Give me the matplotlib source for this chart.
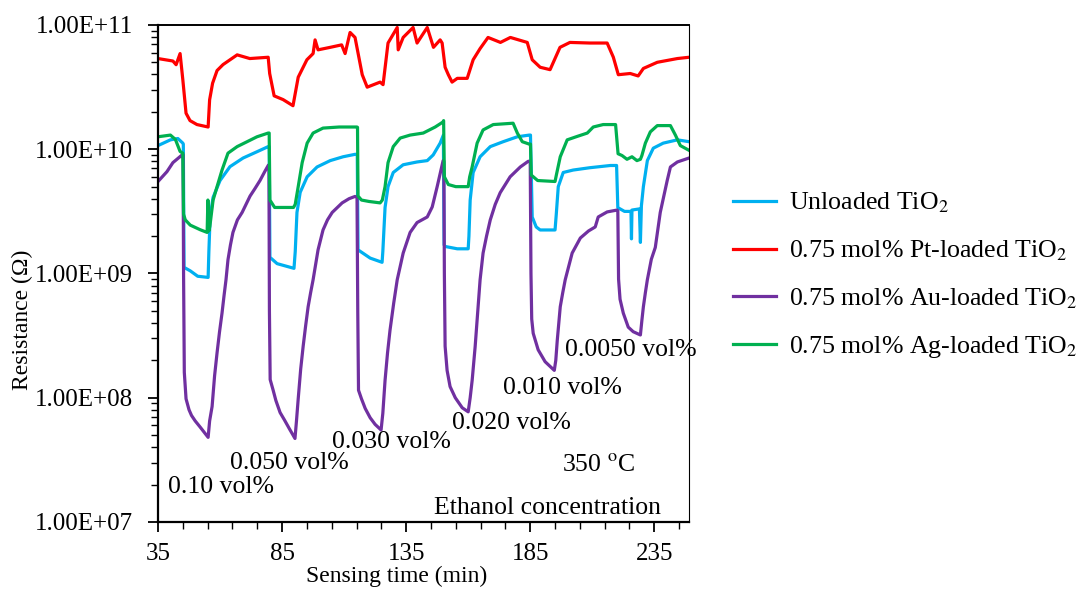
import matplotlib
matplotlib.use("Agg")
import matplotlib.pyplot as plt
import numpy as np
from matplotlib.ticker import FuncFormatter, FixedLocator, LogLocator, NullFormatter

plt.rcParams['font.family'] = ['Liberation Serif', 'DejaVu Serif']
plt.rcParams['mathtext.fontset'] = 'stix'

# sensing time (min) and resistance (ohm) for each film
t_unloaded = [35, 40, 43, 45, 45.2, 45.5, 48, 51, 55.2, 55.5, 56, 57.2, 60, 64, 69.3, 74.9, 79.4,
              79.8, 80.1, 83, 89.8, 90.3, 91, 92.3, 95.1, 99.1, 104.4, 109.6, 114.4, 115.3,
              115.6, 120.5, 125.3, 125.6, 126.5, 127.7, 129.8, 133.8, 139.4, 143.5, 145.9,
              148.7, 150, 150.3, 150.7, 155.6, 160, 160.3, 160.8, 162, 164.8, 168.9, 174.1,
              179.8, 184.6, 185.1, 185.8, 187.4, 189, 195, 195.5, 196.3, 198.3, 202.3, 209,
              217.3, 219.8, 220.3, 223, 225.6, 225.8, 226.0, 229, 229.4, 229.8, 230.6, 232.2,
              234.6, 238.6, 244.3, 249]
r_unloaded = [1.07e10, 1.19e10, 1.22e10, 1.12e10, 1.1e10, 1.12e9, 1.05e9, 9.5e8, 9.3e8, 1.5e9,
              2.85e9, 4.1e9, 5.6e9, 7.24e9, 8.5e9, 9.55e9, 1.05e10, 1.05e10, 1.35e9, 1.2e9,
              1.1e9, 1.5e9, 3.1e9, 4.5e9, 6.0e9, 7.2e9, 8.1e9, 8.7e9, 9.1e9, 9.1e9, 1.55e9,
              1.33e9, 1.23e9, 1.5e9, 3.4e9, 5.0e9, 6.5e9, 7.5e9, 7.9e9, 8.1e9, 9.0e9, 1.12e10,
              1.3e10, 1.7e9, 1.65e9, 1.58e9, 1.58e9, 2.0e9, 3.9e9, 6.5e9, 8.7e9, 1.05e10,
              1.15e10, 1.26e10, 1.3e10, 1.3e10, 2.85e9, 2.37e9, 2.24e9, 2.24e9, 3.0e9, 5.0e9,
              6.5e9, 6.8e9, 7.1e9, 7.4e9, 7.4e9, 3.39e9, 3.16e9, 3.16e9, 1.9e9, 3.24e9, 3.31e9,
              1.78e9, 3.5e9, 5.0e9, 8.1e9, 1.02e10, 1.12e10, 1.19e10, 1.15e10]

t_pt = [35, 41, 42.3, 43.9, 45, 46.3, 47.9, 50.7, 55.2, 55.8, 57, 58.8, 61.2, 66.9, 72, 79.4,
        80, 81.8, 85.4, 89.4, 91.5, 95, 97.5, 98.3, 99.5, 104.4, 109, 110.4, 112.4, 114.4,
        117.3, 119.3, 124.5, 125.7, 127.7, 131.4, 131.8, 133.8, 137.8, 139.4, 143.5, 146,
        148.7, 149.5, 150.7, 152, 153.5, 155.6, 159.6, 162, 164.8, 168, 173, 177, 183.8,
        185.8, 189, 193, 197, 201, 209, 216, 218.5, 220.5, 225.3, 228.5, 230.6, 236.2, 244.3,
        249]
r_pt = [5.37e10, 5.13e10, 4.79e10, 5.89e10, 3.63e10, 1.95e10, 1.7e10, 1.58e10, 1.51e10,
        2.5e10, 3.4e10, 4.3e10, 4.8e10, 5.75e10, 5.37e10, 5.5e10, 4.07e10, 2.69e10, 2.51e10,
        2.24e10, 3.8e10, 5.25e10, 5.89e10, 7.59e10, 6.31e10, 6.61e10, 6.92e10, 5.89e10,
        8.71e10, 7.94e10, 3.98e10, 3.16e10, 3.47e10, 3.31e10, 7.16e10, 9.55e10, 6.31e10,
        7.94e10, 9.55e10, 7.16e10, 9.55e10, 6.61e10, 7.59e10, 7.16e10, 4.57e10, 3.98e10,
        3.47e10, 3.72e10, 3.72e10, 5.25e10, 6.46e10, 7.94e10, 7.24e10, 7.94e10, 7.24e10,
        5.25e10, 4.57e10, 4.37e10, 6.61e10, 7.24e10, 7.16e10, 7.16e10, 5.5e10, 3.98e10,
        4.07e10, 3.89e10, 4.47e10, 5.01e10, 5.37e10, 5.5e10]

t_au = [35, 38.6, 41, 44.7, 45.1, 45.3, 45.6, 46.3, 47.5, 48.5, 50, 52, 53.5, 55.2, 55.8, 56.8,
        57.8, 58.8, 59.8, 60.8, 61.6, 62.4, 63.2, 64.2, 65.2, 67, 68.9, 70.5, 72.1, 74, 76.1,
        78, 79.4, 79.7, 79.9, 80.2, 81.4, 82.5, 84.2, 86, 88, 90.2, 90.8, 91.5, 92.5, 93.5,
        94.5, 95.5, 96.5, 97.5, 99.5, 101.5, 103.3, 105.2, 109.2, 112, 114.4, 115.2, 115.5,
        115.8, 117, 118.5, 120.5, 122.5, 124.9, 125.6, 126.5, 127.5, 128.5, 130, 131.4, 133.8,
        136.6, 139.4, 143.5, 145.5, 147.5, 149.9, 150.2, 150.4, 150.7, 151.5, 152.7, 154.8,
        157.6, 160, 160.8, 161.6, 162.8, 164, 164.8, 166, 167.4, 168.9, 170.9, 172.9, 176.9,
        181, 184.2, 185.0, 185.3, 185.6, 186.2, 188.2, 191, 194.7, 195.3, 195.9, 197.1, 198.1,
        199.1, 201.9, 205.2, 208.5, 211.2, 212.4, 216, 220, 220.3, 220.6, 221.2, 222.5, 224.5,
        226.5, 229.4, 230, 230.6, 231.4, 232.2, 233.8, 235.4, 237.4, 240.2, 241.5, 244.3, 249]
r_au = [5.5e9, 6.6e9, 7.8e9, 9.0e9, 9.0e9, 1.0e9, 1.6e8, 9.8e7, 8.0e7, 7.2e7, 6.5e7, 5.8e7,
        5.3e7, 4.8e7, 6.5e7, 8.5e7, 1.5e8, 2.3e8, 3.4e8, 4.8e8, 6.6e8, 8.9e8, 1.29e9, 1.7e9,
        2.14e9, 2.7e9, 3.1e9, 3.6e9, 4.2e9, 4.8e9, 5.6e9, 6.6e9, 7.4e9, 7.5e9, 5.0e8, 1.4e8,
        1.15e8, 9.5e7, 7.6e7, 6.6e7, 5.6e7, 4.7e7, 6.5e7, 9.8e7, 1.7e8, 2.6e8, 3.8e8, 5.4e8,
        7.0e8, 8.9e8, 1.55e9, 2.24e9, 2.7e9, 3.1e9, 3.7e9, 4.0e9, 4.17e9, 4.1e9, 5.0e8,
        1.15e8, 9.8e7, 8.2e7, 6.9e7, 6.1e7, 5.5e7, 7.5e7, 1.38e8, 2.3e8, 3.5e8, 5.8e8, 8.9e8,
        1.46e9, 2.14e9, 2.57e9, 2.85e9, 3.43e9, 5.0e9, 8.1e9, 8.0e9, 1.0e9, 2.6e8, 1.66e8,
        1.23e8, 1.0e8, 8.3e7, 7.7e7, 1.0e8, 1.38e8, 2.57e8, 5.4e8, 8.9e8, 1.46e9, 2.0e9,
        2.7e9, 3.6e9, 4.47e9, 6.0e9, 7.2e9, 8.0e9, 8.0e9, 1.0e9, 4.3e8, 3.3e8, 2.43e8, 1.95e8,
        1.66e8, 2.0e8, 2.9e8, 5.4e8, 7.0e8, 8.9e8, 1.46e9, 1.93e9, 2.2e9, 2.37e9, 2.85e9,
        3.13e9, 3.24e9, 3.2e9, 9.0e8, 6.2e8, 4.8e8, 3.7e8, 3.4e8, 3.2e8, 4.2e8, 5.4e8, 7.0e8,
        8.9e8, 1.3e9, 1.62e9, 3.1e9, 5.6e9, 7.2e9, 7.9e9, 8.5e9]

t_ag = [35, 40, 42, 43.9, 45, 45.3, 46, 48, 52, 54.8, 55.1, 55.5, 55.9, 57.2, 58.8, 60.8, 63.2,
        66.9, 70.9, 74.9, 79.4, 79.8, 80.1, 82, 89.6, 90.3, 91.5, 93.1, 95.1, 97.5, 101.5, 108,
        115.2, 115.4, 115.6, 117, 120, 124.5, 125.4, 126.5, 127.7, 129.8, 132.6, 136.6, 141.9,
        146.7, 149.9, 150.1, 150.4, 152, 155, 160, 160.6, 161.6, 163.6, 166, 170.1, 178.1,
        179.8, 181.8, 184.6, 185.1, 185.4, 188, 195, 195.6, 197.1, 199.9, 204, 208, 210.4,
        214.4, 219.4, 220.4, 222, 224, 226, 228, 229.4, 230, 231.4, 233.4, 236.2, 241.5, 243.5,
        245.5, 249]
r_ag = [1.26e10, 1.3e10, 1.2e10, 9.6e9, 9.3e9, 3.0e9, 2.7e9, 2.45e9, 2.25e9, 2.14e9, 3.9e9,
        2.2e9, 2.4e9, 3.9e9, 5.0e9, 6.8e9, 9.3e9, 1.05e10, 1.15e10, 1.26e10, 1.35e10, 1.35e10,
        3.9e9, 3.4e9, 3.4e9, 3.6e9, 5.0e9, 7.8e9, 1.12e10, 1.35e10, 1.48e10, 1.51e10, 1.51e10,
        1.5e10, 4.2e9, 3.9e9, 3.8e9, 3.7e9, 3.9e9, 5.0e9, 7.8e9, 1.05e10, 1.23e10, 1.3e10,
        1.35e10, 1.51e10, 1.66e10, 1.7e10, 6.0e9, 5.2e9, 5.0e9, 5.0e9, 6.0e9, 7.2e9, 1.12e10,
        1.43e10, 1.58e10, 1.62e10, 1.35e10, 1.15e10, 1.1e10, 1.1e10, 6.2e9, 5.6e9, 5.5e9,
        6.3e9, 8.7e9, 1.19e10, 1.27e10, 1.35e10, 1.51e10, 1.58e10, 1.58e10, 9.2e9, 8.9e9,
        8.3e9, 8.7e9, 8.1e9, 8.3e9, 8.9e9, 1.12e10, 1.38e10, 1.55e10, 1.55e10, 1.3e10,
        1.07e10, 9.8e9]

labels = ['Unloaded TiO$_2$', '0.75 mol% Pt-loaded TiO$_2$',
          '0.75 mol% Au-loaded TiO$_2$', '0.75 mol% Ag-loaded TiO$_2$']
colors = ['#00B0F0', '#FF0000', '#7030A0', '#00B050']

fig = plt.figure(figsize=(10.8, 5.91), dpi=100)
ax = fig.add_axes([0.1463, 0.1168, 0.4917, 0.8409])

series = [(t_unloaded, r_unloaded), (t_pt, r_pt), (t_au, r_au), (t_ag, r_ag)]
for (t, r), lab, c in zip(series, labels, colors):
    ax.plot(t, r, color=c, lw=2.3, label=lab, solid_joinstyle='round')

ax.set_yscale('log')
ax.set_ylim(1e7, 1e11)
ax.set_xlim(35, 249)
ax.yaxis.set_major_locator(LogLocator(base=10))
ax.yaxis.set_minor_locator(LogLocator(base=10, subs=np.arange(2, 10)))
ax.yaxis.set_minor_formatter(NullFormatter())
ax.yaxis.set_major_formatter(FuncFormatter(lambda v, p: f"{v:.2E}"))
ax.set_xticks([35, 85, 135, 185, 235])
ax.xaxis.set_minor_locator(FixedLocator(np.arange(35, 250, 10)))

ax.tick_params(axis='y', which='major', direction='out', length=7, width=1.3, labelsize=18, pad=11)
ax.tick_params(axis='y', which='minor', direction='out', length=5, width=1.0)
ax.tick_params(axis='x', which='major', direction='out', length=7, width=1.3, labelsize=18, pad=8)
ax.tick_params(axis='x', which='minor', direction='out', length=5, width=1.0)

for s in ['left', 'bottom']:
    ax.spines[s].set_linewidth(1.6)
ax.spines['top'].set_linewidth(1.4)
ax.spines['right'].set_linewidth(0.8)

ax.set_ylabel('Resistance (Ω)', fontsize=17)
ax.yaxis.set_label_coords(-0.235, 0.406)
ax.set_xlabel('Sensing time (min)', fontsize=17)
ax.xaxis.set_label_coords(0.45, -0.088)

# ethanol concentration of each pulse
ann = dict(fontsize=18.5, va='center', ha='left')
ax.text(39, 10**7.28, '0.10 vol%', **ann)
ax.text(64, 10**7.475, '0.050 vol%', **ann)
ax.text(105.2, 10**7.645, '0.030 vol%', **ann)
ax.text(153.5, 10**7.80, '0.020 vol%', **ann)
ax.text(174.1, 10**8.08, '0.010 vol%', **ann)
ax.text(199.1, 10**8.385, '0.0050 vol%', **ann)
ax.text(197.9, 10**7.46, '350 $^{\\mathrm{o}}$C', **ann)
ax.text(146.3, 10**7.11, 'Ethanol concentration', **ann)

fig.legend(loc='center left', bbox_to_anchor=(733 / 1080, 1 - 275.5 / 591), frameon=False,
           fontsize=18.6, handlelength=1.65, handletextpad=0.5, labelspacing=0.9,
           borderpad=0, borderaxespad=0)

fig.savefig('out.png', dpi=100)
